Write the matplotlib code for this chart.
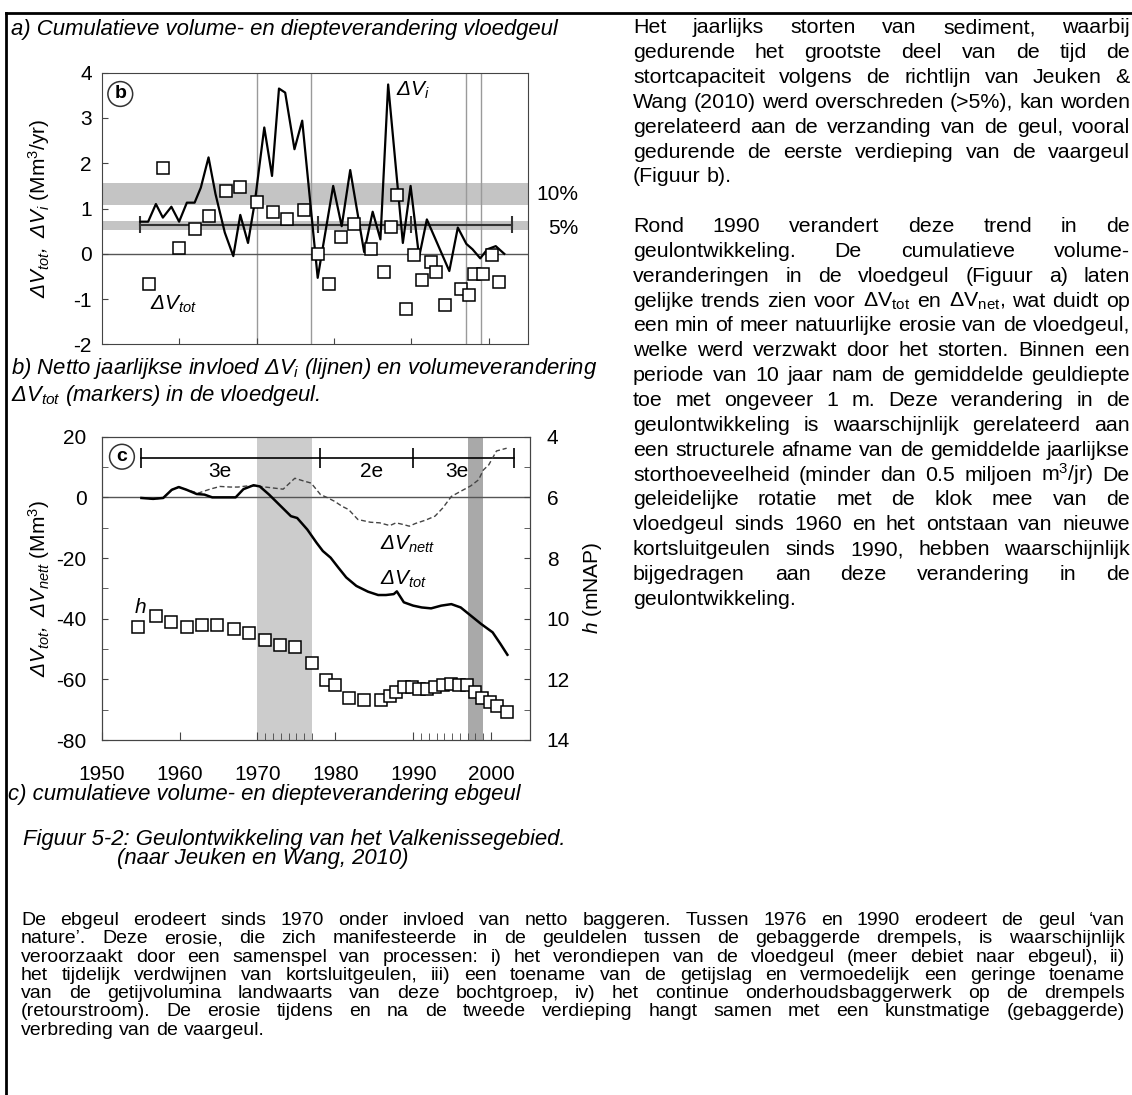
import matplotlib
matplotlib.use("Agg")
import matplotlib.pyplot as plt
from matplotlib.lines import Line2D
from matplotlib.font_manager import FontProperties

plt.rcParams["font.family"] = "Liberation Sans"
plt.rcParams["axes.unicode_minus"] = False
plt.rcParams["mathtext.fontset"] = "custom"
plt.rcParams["mathtext.rm"] = "Liberation Sans:italic"
plt.rcParams["mathtext.it"] = "Liberation Sans:italic"
plt.rcParams["mathtext.sf"] = "Liberation Sans"
plt.rcParams["mathtext.bf"] = "Liberation Sans:bold"

W, H = 1132, 1095

# --- chart b: yearly influx dV_i (line) and volume change dV_tot (squares)
vi_year = [1955.0, 1956.0, 1957.0, 1957.9, 1959.0, 1960.0, 1961.0, 1962.0, 1962.8,
           1963.8, 1964.7, 1965.9, 1967.0, 1967.9, 1968.9, 1969.8, 1971.0, 1972.0,
           1972.9, 1973.7, 1974.9, 1975.9, 1977.9, 1979.9, 1981.0, 1982.1, 1983.9,
           1985.0, 1986.0, 1987.0, 1988.9, 1989.9, 1991.0, 1992.0, 1994.9, 1996.0,
           1997.1, 1997.9, 1998.9, 1999.8, 2000.9, 2002.0]
vi_val = [0.71, 0.71, 1.10, 0.80, 1.04, 0.71, 1.13, 1.13, 1.46, 2.13, 1.32, 0.47,
          -0.05, 0.86, 0.24, 1.17, 2.79, 1.72, 3.65, 3.56, 2.31, 2.94, -0.53, 1.50,
          0.61, 1.85, 0.04, 0.93, 0.32, 3.74, 0.24, 1.50, -0.07, 0.76, -0.38, 0.58,
          0.22, 0.10, -0.10, 0.10, 0.17, 0.0]

vt_year = [1956.1, 1957.9, 1960.0, 1962.1, 1963.9, 1966.0, 1967.8, 1970.0, 1972.1,
           1973.9, 1976.1, 1977.9, 1979.4, 1980.9, 1982.6, 1984.8, 1986.4, 1987.4,
           1988.2, 1989.3, 1990.3, 1991.4, 1992.5, 1993.2, 1994.3, 1996.4, 1997.4,
           1998.1, 1999.3, 2000.4, 2001.3]
vt_val = [-0.67, 1.89, 0.13, 0.55, 0.84, 1.39, 1.48, 1.15, 0.93, 0.78, 0.97, 0.0,
          -0.67, 0.38, 0.65, 0.10, -0.41, 0.60, 1.29, -1.22, -0.03, -0.58, -0.18,
          -0.41, -1.14, -0.77, -0.92, -0.44, -0.44, -0.03, -0.62]

band10 = (1.07, 1.56)
band5 = (0.52, 0.73)
line5 = 0.64
period_caps = [1955, 1978, 1990, 2003]
dredge_lines = [1970, 1977, 1997, 1999]

# --- chart c: cumulative volume change ebb channel and depth h
tot_year = [1955.1, 1956.6, 1957.9, 1959.0, 1959.9, 1960.9, 1962.2, 1963.2, 1964.2,
            1965.5, 1967.2, 1968.2, 1969.5, 1970.3, 1971.5, 1972.8, 1974.3, 1975.1,
            1976.4, 1977.6, 1978.4, 1979.4, 1980.4, 1981.4, 1982.7, 1984.2, 1985.5,
            1986.5, 1987.5, 1987.9, 1988.8, 1990.0, 1991.1, 1992.3, 1993.6, 1994.9,
            1996.1, 1997.4, 1998.7, 2000.2, 2001.2, 2002.1]
tot_val = [-0.2, -0.5, -0.2, 2.5, 3.4, 2.5, 1.1, 0.9, 0.0, 0.0, 0.0, 2.7, 4.0, 3.6,
           0.9, -2.4, -6.2, -6.8, -10.6, -15.0, -17.7, -19.9, -23.2, -26.4, -29.2,
           -31.1, -32.2, -32.2, -31.9, -31.0, -34.6, -35.7, -36.3, -36.6, -35.7,
           -35.2, -36.3, -39.0, -41.7, -44.5, -48.3, -51.9]

nett_year = [1955.1, 1956.6, 1957.9, 1959.0, 1959.9, 1960.9, 1962.4, 1963.9, 1965.2,
             1966.5, 1967.5, 1968.8, 1969.8, 1971.0, 1972.0, 1973.3, 1974.8, 1975.8,
             1976.9, 1978.1, 1978.9, 1979.9, 1980.9, 1981.7, 1982.9, 1984.5, 1985.7,
             1987.0, 1987.8, 1988.8, 1989.5, 1990.3, 1991.6, 1992.8, 1993.8, 1994.9,
             1996.1, 1997.4, 1998.4, 1999.0, 1999.7, 2000.7, 2002.0]
nett_val = [-0.2, -0.5, -0.2, 2.5, 3.4, 2.5, 1.4, 2.7, 3.6, 3.4, 3.4, 3.8, 3.8, 3.4,
            3.1, 2.7, 6.3, 5.5, 4.7, 0.9, 0.0, -1.3, -3.0, -4.0, -7.3, -8.2, -8.4,
            -9.3, -8.4, -9.0, -9.5, -8.6, -7.5, -6.2, -3.5, 0.3, 2.0, 3.8, 5.8, 9.0,
            10.7, 15.3, 16.2]

h_year = [1954.7, 1957.0, 1958.9, 1961.0, 1962.9, 1964.8, 1967.0, 1968.9, 1971.0,
          1972.9, 1974.8, 1977.0, 1978.8, 1979.9, 1981.8, 1983.7, 1985.9, 1987.0,
          1987.8, 1988.8, 1989.8, 1990.8, 1991.8, 1992.8, 1993.8, 1994.9, 1995.9,
          1996.9, 1997.9, 1998.9, 1999.9, 2000.8, 2002.0]
h_val = [10.26, 9.90, 10.12, 10.26, 10.20, 10.20, 10.34, 10.47, 10.69, 10.86, 10.94,
         11.46, 12.03, 12.20, 12.63, 12.69, 12.69, 12.56, 12.42, 12.26, 12.26, 12.33,
         12.33, 12.26, 12.20, 12.14, 12.20, 12.20, 12.42, 12.60, 12.74, 12.89, 13.09]

period_labels = [(1965.2, "3e"), (1984.7, "2e"), (1995.6, "3e")]

# --- page text
text_right_1 = [
    "Het jaarlijks storten van sediment, waarbij",
    "gedurende het grootste deel van de tijd de",
    "stortcapaciteit volgens de richtlijn van Jeuken &",
    "Wang (2010) werd overschreden (>5%), kan worden",
    "gerelateerd aan de verzanding van de geul, vooral",
    "gedurende de eerste verdieping van de vaargeul",
    "(Figuur b).",
]
text_right_2 = [
    "Rond 1990 verandert deze trend in de",
    "geulontwikkeling. De cumulatieve volume-",
    "veranderingen in de vloedgeul (Figuur a) laten",
    r"gelijke trends zien voor $\mathsf{\Delta{}V_{tot}}$ en $\mathsf{\Delta{}V_{net}}$, wat duidt op",
    "een min of meer natuurlijke erosie van de vloedgeul,",
    "welke werd verzwakt door het storten. Binnen een",
    "periode van 10 jaar nam de gemiddelde geuldiepte",
    "toe met ongeveer 1 m. Deze verandering in de",
    "geulontwikkeling is waarschijnlijk gerelateerd aan",
    "een structurele afname van de gemiddelde jaarlijkse",
    r"storthoeveelheid (minder dan 0.5 miljoen m$^{\mathsf{3}}$/jr) De",
    "geleidelijke rotatie met de klok mee van de",
    "vloedgeul sinds 1960 en het ontstaan van nieuwe",
    "kortsluitgeulen sinds 1990, hebben waarschijnlijk",
    "bijgedragen aan deze verandering in de",
    "geulontwikkeling.",
]
text_bottom = [
    "De ebgeul erodeert sinds 1970 onder invloed van netto baggeren. Tussen 1976 en 1990 erodeert de geul \u2018van",
    "nature\u2019. Deze erosie, die zich manifesteerde in de geuldelen tussen de gebaggerde drempels, is waarschijnlijk",
    "veroorzaakt door een samenspel van processen: i) het verondiepen van de vloedgeul (meer debiet naar ebgeul), ii)",
    "het tijdelijk verdwijnen van kortsluitgeulen, iii) een toename van de getijslag en vermoedelijk een geringe toename",
    "van de getijvolumina landwaarts van deze bochtgroep, iv) het continue onderhoudsbaggerwerk op de drempels",
    "(retourstroom). De erosie tijdens en na de tweede verdieping hangt samen met een kunstmatige (gebaggerde)",
    "verbreding van de vaargeul.",
]


def fx(x):
    return x / W


def fy(y):
    return 1 - y / H


fig = plt.figure(figsize=(W / 100, H / 100), dpi=100)
renderer = fig.canvas.get_renderer()

spine_col = "#444444"
fs = 15
sq = dict(marker="s", ls="none", ms=8, mfc="white", mec="black", mew=1.1)
circ = dict(boxstyle="circle,pad=0.2", fc="white", ec="#333333", lw=1.1)

# ---------------- chart b
axb = fig.add_axes([fx(101.7), fy(344.4), (527.5 - 101.7) / W, (344.4 - 72.7) / H])
axb.set_xlim(1950, 2005)
axb.set_ylim(-2, 4)
axb.axhspan(*band10, color="#c4c4c4", lw=0, zorder=0)
axb.axhspan(*band5, color="#c4c4c4", lw=0, zorder=0)
for yr in dredge_lines:
    axb.axvline(yr, color="#9a9a9a", lw=1, zorder=1)
axb.axhline(0, color="#555555", lw=1, zorder=1)
axb.plot([period_caps[0], period_caps[-1]], [line5, line5], color="#333333", lw=1.5, zorder=2)
axb.vlines(period_caps, line5 - 0.19, line5 + 0.19, color="#333333", lw=1.5, zorder=2)
axb.plot(vi_year, vi_val, color="black", lw=1.6, zorder=3)
axb.plot(vt_year, vt_val, zorder=4, **sq)
axb.text(1988, 3.62, r"$\Delta V_i$", fontsize=fs, va="center")
axb.text(1956.3, -1.12, r"$\Delta V_{tot}$", fontsize=fs, va="center")
axb.text(1952.4, 3.53, "b", fontsize=14, fontweight="bold", ha="center", va="center",
         bbox=circ)
axb.set_yticks(range(-2, 5))
axb.set_xticks([1960, 1970, 1980, 1990, 2000])
axb.tick_params(direction="in", length=4, labelsize=fs, pad=7, labelbottom=False,
                color=spine_col)
for s in axb.spines.values():
    s.set_color(spine_col)

fig.text(fx(578), fy(194.3), "10%", fontsize=fs, ha="right", va="center")
fig.text(fx(578), fy(228), "5%", fontsize=fs, ha="right", va="center")
fig.text(fx(38.7), fy(208.5), r"$\Delta V_{tot},\ \Delta V_i$ (Mm$^{\mathsf{3}}$/yr)",
         fontsize=fs, rotation=90, ha="center", va="center")

# ---------------- chart c
axc = fig.add_axes([fx(101.7), fy(740), (530 - 101.7) / W, (740 - 436.7) / H])
axc.set_xlim(1950, 2005)
axc.set_ylim(-80, 20)
axc.axvspan(1970, 1977, color="#cccccc", lw=0, zorder=0)
axc.axvspan(1997, 1999, color="#a9a9a9", lw=0, zorder=0)
axc.axhline(0, color="#555555", lw=1, zorder=1)
axc.plot([period_caps[0], period_caps[-1]], [12.9, 12.9], color="black", lw=1.2)
axc.vlines(period_caps, 9.6, 16.2, color="black", lw=1.2)
for x, lab in period_labels:
    axc.text(x, 8.5, lab, fontsize=fs, ha="center", va="center")
axc.plot(nett_year, nett_val, color="#444444", lw=1, dashes=(3.5, 2), zorder=3)
axc.plot(tot_year, tot_val, color="black", lw=1.8, zorder=3)
axc.text(1985.8, -15.5, r"$\Delta V_{nett}$", fontsize=fs, va="center")
axc.text(1985.8, -27.0, r"$\Delta V_{tot}$", fontsize=fs, va="center")
axc.text(1955.0, -36.3, r"$h$", fontsize=fs, ha="center", va="center")
axc.text(1952.6, 13.4, "c", fontsize=14, fontweight="bold", ha="center", va="center",
         bbox=circ)
axc.set_yticks(range(-80, 21, 20))
axc.set_yticks(range(-80, 21, 10), minor=True)
axc.set_xticks(range(1950, 2001, 10))
axc.set_xticks(list(range(1971, 1978)) + list(range(1991, 2000)), minor=True)
axc.tick_params(axis="y", which="both", direction="in", length=4, labelsize=fs, pad=11,
                color=spine_col, right=False)
axc.tick_params(axis="x", which="major", direction="in", length=6, labelsize=fs, pad=18,
                color=spine_col)
axc.tick_params(axis="x", which="minor", direction="in", length=5, color=spine_col)

axh = axc.twinx()
axh.set_ylim(14, 4)
axh.plot(h_year, h_val, zorder=4, **sq)
axh.set_yticks(range(4, 15, 2))
axh.set_yticks(range(4, 15), minor=True)
axh.tick_params(axis="y", which="both", direction="in", length=4, labelsize=fs, pad=12,
                color=spine_col)
for ax in (axc, axh):
    for s in ax.spines.values():
        s.set_color(spine_col)

fig.text(fx(38.6), fy(588), r"$\Delta V_{tot},\ \Delta V_{nett}$ (Mm$^{\mathsf{3}}$)",
         fontsize=fs, rotation=90, ha="center", va="center")
fig.text(fx(593), fy(588), r"$h$ (mNAP)", fontsize=fs, rotation=90,
         ha="center", va="center")

# ---------------- captions
cap = dict(fontsize=15.9, style="italic", ha="left", va="baseline")
fig.text(fx(11), fy(35.4), "a) Cumulatieve volume- en diepteverandering vloedgeul", **cap)
fig.text(fx(11), fy(374), r"b) Netto jaarlijkse invloed $\Delta V_i$ (lijnen) en volumeverandering", **cap)
fig.text(fx(11), fy(401), r"$\Delta V_{tot}$ (markers) in de vloedgeul.", **cap)
fig.text(fx(8), fy(800), "c) cumulatieve volume- en diepteverandering ebgeul", **cap)
fig.text(fx(23), fy(845), "Figuur 5-2: Geulontwikkeling van het Valkenissegebied.", **cap)
fig.text(fx(117), fy(864), "(naar Jeuken en Wang, 2010)", **cap)

# ---------------- justified body text


def paragraph(lines, x0, x1, y0, dy, prop):
    def width(s):
        return renderer.get_text_width_height_descent(s, prop, ismath="$" in s)[0]

    space = width("a b") - width("ab")
    for i, line in enumerate(lines):
        words = line.split(" ")
        ws = [width(w) for w in words]
        if i == len(lines) - 1 or len(words) == 1:
            gap = space
        else:
            gap = max((x1 - x0 - sum(ws)) / (len(words) - 1), 0.6 * space)
        x = x0
        y = y0 + i * dy
        for w, wd in zip(words, ws):
            fig.text(fx(x), fy(y), w, fontproperties=prop, ha="left", va="baseline")
            x += wd + gap


body_r = FontProperties(family="Liberation Sans", size=15.4)
body_b = FontProperties(family="Liberation Sans", size=14.0)
dy = 24.85
paragraph(text_right_1, 633, 1130, 33.3, dy, body_r)
paragraph(text_right_2, 633, 1130, 33.3 + 8 * dy, dy, body_r)
paragraph(text_bottom, 21, 1125, 925, 18.3, body_b)

# page frame
fig.add_artist(Line2D([fx(6), 1], [fy(13), fy(13)], transform=fig.transFigure, color="black", lw=2))
fig.add_artist(Line2D([fx(6), fx(6)], [fy(13), 0], transform=fig.transFigure, color="black", lw=2))

fig.savefig("out.png", dpi=100)
